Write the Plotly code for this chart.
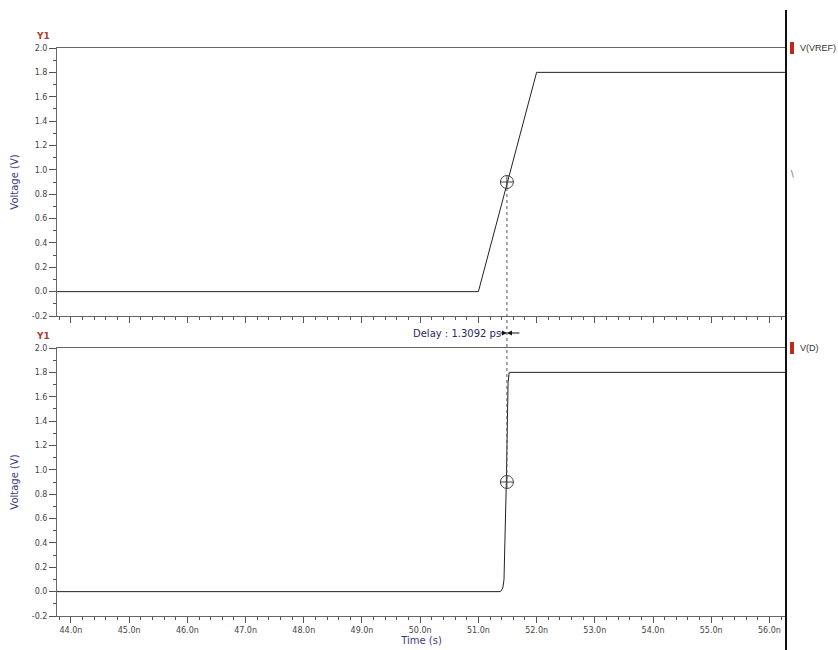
import plotly.graph_objects as go

# ---- data (time in ns, voltage in V) ----
vref_t = [43.76, 51.0, 52.0, 56.3]
vref_v = [0.0, 0.0, 1.8, 1.8]

vd_t = [43.76, 51.38, 51.42, 51.44, 51.48, 51.51, 51.53, 56.3]
vd_v = [0.0, 0.0, 0.03, 0.1, 0.9, 1.72, 1.8, 1.8]

cross_t = [51.49]
cross_v = [0.9]

x_tickvals = [44, 45, 46, 47, 48, 49, 50, 51, 52, 53, 54, 55, 56]
x_ticktext = ["44.0n", "45.0n", "46.0n", "47.0n", "48.0n", "49.0n", "50.0n",
              "51.0n", "52.0n", "53.0n", "54.0n", "55.0n", "56.0n"]
y_tickvals = [-0.2, 0.0, 0.2, 0.4, 0.6, 0.8, 1.0, 1.2, 1.4, 1.6, 1.8, 2.0]
y_ticktext = ["-0.2", "0.0", "0.2", "0.4", "0.6", "0.8", "1.0", "1.2", "1.4", "1.6", "1.8", "2.0"]

legend_names = ["V(VREF)", "V(D)"]
delay_text = "Delay : 1.3092 ps"

# ---- layout geometry ----
W, H = 838, 650
ML, MR, MT, MB = 57, 52, 48, 34
plot_h = H - MT - MB
plot_w = W - ML - MR
top_dom = [(616 - 316) / plot_h, 1.0]
bot_dom = [0.0, (616 - 348) / plot_h]
xr = [43.76, 56.285]
yr = [-0.2, 2.0]

def ypaper(v, dom):
    return dom[0] + (v - yr[0]) / (yr[1] - yr[0]) * (dom[1] - dom[0])

fig = go.Figure()
fig.add_trace(go.Scatter(x=vref_t, y=vref_v, mode="lines", line=dict(color="#222222", width=1),
                         xaxis="x", yaxis="y", showlegend=False))
fig.add_trace(go.Scatter(x=cross_t, y=cross_v, mode="markers",
                         marker=dict(symbol="circle-cross-open", size=13, color="#444444", line=dict(width=1)),
                         xaxis="x", yaxis="y", showlegend=False))
fig.add_trace(go.Scatter(x=vd_t, y=vd_v, mode="lines", line=dict(color="#222222", width=1),
                         xaxis="x2", yaxis="y2", showlegend=False))
fig.add_trace(go.Scatter(x=cross_t, y=cross_v, mode="markers",
                         marker=dict(symbol="circle-cross-open", size=13, color="#444444", line=dict(width=1)),
                         xaxis="x2", yaxis="y2", showlegend=False))

axis_font = dict(family="DejaVu Sans", size=8, color="#444444")
common_x = dict(range=xr, tickvals=x_tickvals, ticktext=x_ticktext, ticks="outside", ticklen=6,
                tickcolor="#555555", showline=True, linecolor="#666666", linewidth=1, mirror=True,
                showgrid=False, zeroline=False, tickfont=axis_font,
                minor=dict(dtick=0.2, ticks="outside", ticklen=3, tickcolor="#555555", showgrid=False))
common_y = dict(range=yr, tickvals=y_tickvals, ticktext=y_ticktext, ticks="outside", ticklen=7,
                tickcolor="#555555", showline=True, linecolor="#666666", linewidth=1, mirror=True,
                showgrid=False, zeroline=False, tickfont=axis_font,
                minor=dict(dtick=0.1, ticks="outside", ticklen=3, tickcolor="#555555", showgrid=False))

title_font = dict(family="DejaVu Sans", size=10, color="#3a3a80")

fig.update_layout(
    width=W, height=H, margin=dict(l=ML, r=MR, t=MT, b=MB, autoexpand=False),
    paper_bgcolor="white", plot_bgcolor="white", showlegend=False,
    xaxis=dict(common_x, domain=[0, 1], anchor="y", showticklabels=False, automargin=False),
    yaxis=dict(common_y, domain=top_dom, anchor="x", automargin=False,
               title=dict(text="Voltage (V)", font=title_font, standoff=11)),
    xaxis2=dict(common_x, domain=[0, 1], anchor="y2", matches="x", automargin=False,
                title=dict(text="Time (s)", font=title_font, standoff=0)),
    yaxis2=dict(common_y, domain=bot_dom, anchor="x2", automargin=False,
                title=dict(text="Voltage (V)", font=title_font, standoff=11)),
)

shapes = []
# dotted measurement line between the two crosshairs
shapes.append(dict(type="line", xref="x", yref="paper", x0=cross_t[0], x1=cross_t[0],
                   y0=ypaper(cross_v[0], top_dom), y1=ypaper(cross_v[0], bot_dom),
                   line=dict(color="#555555", width=1, dash="dot")))
# thick separator line on the right
shapes.append(dict(type="line", xref="paper", yref="paper", x0=1.0, x1=1.0,
                   y0=-MB / plot_h, y1=(616 - 10) / plot_h,
                   line=dict(color="#111111", width=2)))
# legend color swatches
for dom in (top_dom, bot_dom):
    yc = ypaper(2.0, dom)
    shapes.append(dict(type="rect", xref="paper", yref="paper",
                       x0=1 + 4 / plot_w, x1=1 + 8 / plot_w,
                       y0=yc - 6 / plot_h, y1=yc + 6 / plot_h,
                       fillcolor="#c0281c", line=dict(width=0)))
fig.update_layout(shapes=shapes)

ann = []
for dom, name in zip((top_dom, bot_dom), legend_names):
    yc = ypaper(2.0, dom)
    ann.append(dict(xref="paper", yref="paper", x=1 + 12 / plot_w, y=yc, text=name,
                    showarrow=False, xanchor="left", yanchor="middle",
                    font=dict(family="Liberation Sans", size=9, color="#333333")))
    ann.append(dict(xref="paper", yref="paper", x=-5 / plot_w, y=yc + 12 / plot_h, text="<b>Y1</b>",
                    showarrow=False, xanchor="right", yanchor="middle",
                    font=dict(family="DejaVu Sans", size=9, color="#b04030")))
# delay label
ymid = ((616 - 333) / plot_h)
ann.append(dict(xref="x", yref="paper", x=cross_t[0] - 0.07, y=ymid, text=delay_text,
                showarrow=False, xanchor="right", yanchor="middle",
                font=dict(family="DejaVu Sans", size=10, color="#2a2a60")))
ann.append(dict(xref="x", yref="paper", x=cross_t[0], y=ymid, ax=-8, ay=0, text="",
                showarrow=True, arrowhead=2, arrowsize=1, arrowwidth=1, arrowcolor="#111111",
                axref="pixel", ayref="pixel"))
ann.append(dict(xref="x", yref="paper", x=cross_t[0], y=ymid, ax=14, ay=0, text="",
                showarrow=True, arrowhead=2, arrowsize=1, arrowwidth=1, arrowcolor="#111111",
                axref="pixel", ayref="pixel"))
ann.append(dict(xref="paper", yref="paper", x=1 + 6 / plot_w, y=(616 - 168) / plot_h,
                text="\\", showarrow=False, xanchor="center",
                font=dict(family="DejaVu Sans", size=8, color="#555555")))
fig.update_layout(annotations=ann)

fig.write_html("out.html", config={"displayModeBar": False},
               post_script="document.body.style.margin='0';document.body.style.overflow='hidden';")
